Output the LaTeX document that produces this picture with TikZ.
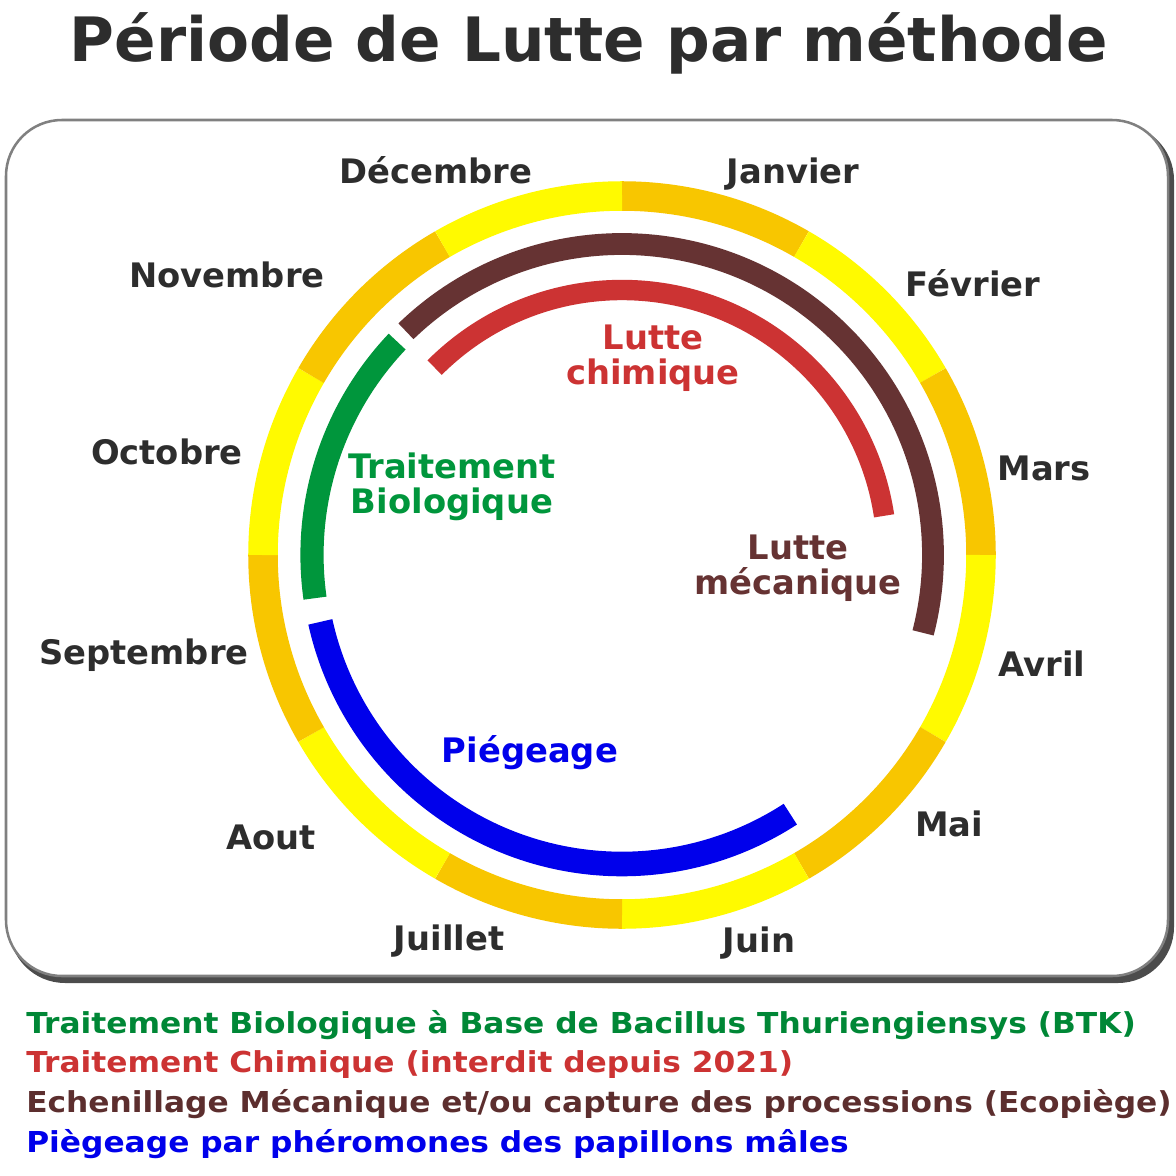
\documentclass[tikz,border=0pt]{standalone}
\usepackage{fontspec}
\setmainfont{DejaVu Sans}
\newfontfamily\legendfont{DejaVu Sans}[FakeStretch=1.085]
\definecolor{ringorange}{RGB}{248,198,0}
\definecolor{ringyellow}{RGB}{255,250,0}
\definecolor{bioGreen}{RGB}{0,150,60}
\definecolor{chemRed}{RGB}{204,51,51}
\definecolor{mecaBrown}{RGB}{102,51,51}
\definecolor{trapBlue}{RGB}{0,0,235}
\definecolor{labelGray}{RGB}{45,45,45}
\def\ringarc[#1](#2:#3:#4){\draw[#1] (622,-555) ++(#2:#4) arc (#2:#3:#4);}

\begin{document}
\begin{tikzpicture}[x=0.025cm, y=0.025cm,
    month/.style={anchor=base, inner sep=0, text=labelGray, font=\fontsize{24}{28}\selectfont\bfseries},
    inlabel/.style={align=center, inner sep=0, font=\fontsize{24}{25}\selectfont\bfseries},
    legend/.style={anchor=base west, inner sep=0, font=\legendfont\fontsize{20.5}{22}\selectfont\bfseries}]
			%%%%% START %%%%%
			\useasboundingbox (0,0) rectangle (1176,-1176);
			
			\node[anchor=base, inner sep=0, text=labelGray, font=\fontsize{43.5}{48}\selectfont\bfseries] (titre) at (589,-62) {Période de Lutte par méthode};
			
			% frame
			\fill[black!70, rounded corners=1.4cm] (9,-124) rectangle (1174,-983);
			\draw[line width=1.8pt, black!50, fill=white, rounded corners=1.4cm] (6,-120) rectangle (1168,-976);
			
			% months ring
			\foreach \a/\c in {90/ringorange, 60/ringyellow, 30/ringorange, 0/ringyellow, -30/ringorange, -60/ringyellow, -90/ringorange, -120/ringyellow, -150/ringorange, -180/ringyellow, -210/ringorange, -240/ringyellow}
			  \ringarc[line width=21pt, color=\c](\a:\a-30:359);
			
			% methods
			\ringarc[line width=15.5pt, color=mecaBrown](134:-14.5:311);
			\ringarc[line width=14.5pt, color=chemRed](135:8.5:265);
			\ringarc[line width=16.5pt, color=bioGreen](136.5:188:310);
			\ringarc[line width=17.5pt, color=trapBlue](192.5:303:309);
			
			\node[month] (jan) at (793,-183) {Janvier};
			\node[month] (fev) at (973,-296) {Février};
			\node[month] (mar) at (1044,-480) {Mars};
			\node[month] (avr) at (1042,-676) {Avril};
			\node[month] (mai) at (949,-836) {Mai};
			\node[month] (jun) at (759,-952) {Juin};
			\node[month] (jul) at (449,-950) {Juillet};
			\node[month] (aou) at (271,-849) {Aout};
			\node[month] (sep) at (144,-664) {Septembre};
			\node[month] (oct) at (167,-464) {Octobre};
			\node[month] (nov) at (227,-287) {Novembre};
			\node[month] (dec) at (436,-183) {Décembre};
			
			\node[inlabel, text=chemRed] (chimique) at (653,-358) {Lutte\\chimique};
			\node[inlabel, text=bioGreen] (bio) at (452,-487) {Traitement\\Biologique};
			\node[inlabel, text=mecaBrown] (meca) at (798,-568) {Lutte\\mécanique};
			\node[inlabel, anchor=base, text=trapBlue] (piege) at (530,-762) {Piégeage};
			
			\node[legend, text=bioGreen!90!black] (leg1) at (26,-1033) {Traitement Biologique à Base de Bacillus Thuriengiensys (BTK)};
			\node[legend, text=chemRed] (leg2) at (26,-1072) {Traitement Chimique (interdit depuis 2021)};
			\node[legend, text=mecaBrown!90!black] (leg3) at (26,-1112) {Echenillage Mécanique et/ou capture des processions (Ecopiège)};
			\node[legend, text=trapBlue] (leg4) at (26,-1152) {Piègeage par phéromones des papillons mâles};
			
			%%%%% END %%%%%
\end{tikzpicture}
\end{document}
